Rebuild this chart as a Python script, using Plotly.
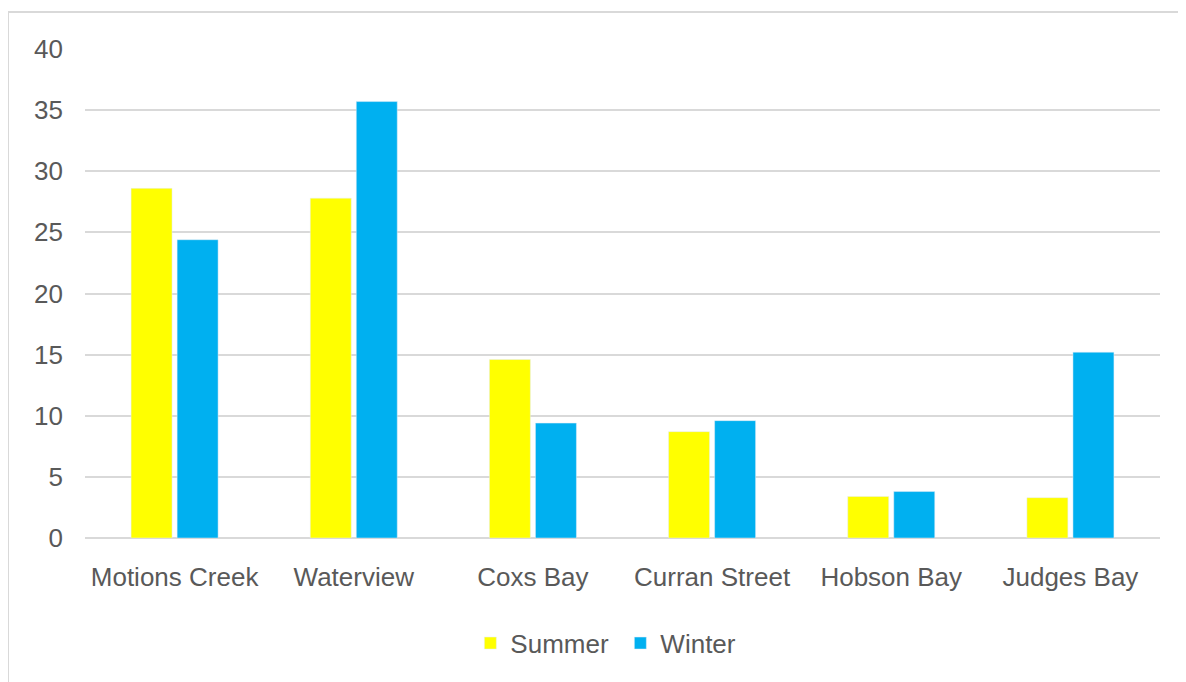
import plotly.graph_objects as go

sites = ["Motions Creek", "Waterview", "Coxs Bay", "Curran Street", "Hobson Bay", "Judges Bay"]
summer = [28.6, 27.8, 14.6, 8.7, 3.4, 3.3]
winter = [24.4, 35.7, 9.4, 9.6, 3.8, 15.2]

fig = go.Figure()
fig.add_trace(go.Bar(x=sites, y=summer, name="Summer", marker_color="#FFFF00"))
fig.add_trace(go.Bar(x=sites, y=winter, name="Winter", marker_color="#00B0F0"))

grey = "#595959"
fig.update_layout(
    width=1186, height=682,
    margin=dict(l=77, r=34, t=41, b=152),
    paper_bgcolor="white", plot_bgcolor="white",
    font=dict(family="Liberation Sans, Arial, sans-serif", size=26, color=grey),
    barmode="group", bargap=0.486, bargroupgap=0.11,
    legend=dict(orientation="h", x=0.498, xanchor="center", y=-0.215, yanchor="middle",
                font=dict(size=26, color=grey), itemwidth=30, entrywidth=105,
                traceorder="normal"),
    showlegend=True,
)
fig.update_yaxes(range=[0, 40], dtick=5, showgrid=True, gridcolor="#d9d9d9", gridwidth=2,
                 zeroline=True, zerolinecolor="#d9d9d9", zerolinewidth=2,
                 showline=False, ticks="", ticklabelstandoff=21)
fig.update_xaxes(showgrid=False, showline=False, ticks="", ticklabelstandoff=21)

# outer chart border (partly cropped in the picture)
fig.add_shape(type="rect", xref="paper", yref="paper",
              x0=(8 - 85) / 1075, x1=1.2, y0=-0.5, y1=(538 - 12) / 489,
              line=dict(color="#d9d9d9", width=2), layer="below")

fig.write_html("out.html")
